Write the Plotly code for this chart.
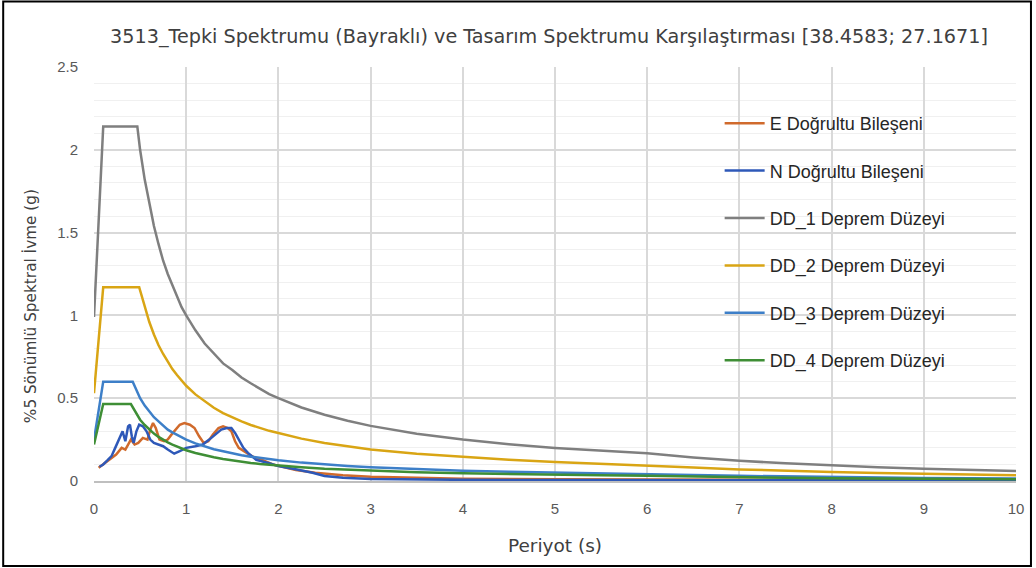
import plotly.graph_objects as go

# Recorded response spectra (5% damping), period in s, acceleration in g
e_period = [0.05, 0.12, 0.19, 0.24, 0.30, 0.34, 0.37, 0.40, 0.44, 0.48, 0.53, 0.58, 0.61, 0.64,
            0.67, 0.71, 0.76, 0.80, 0.84, 0.88, 0.93, 0.98, 1.04, 1.09, 1.14, 1.19, 1.24, 1.29,
            1.35, 1.40, 1.45, 1.49, 1.53, 1.57, 1.62, 1.69, 1.76, 1.83, 1.94, 2.05, 2.19, 2.40,
            2.70, 3.0, 3.5, 4.0, 5.0, 6.0, 7.0, 8.0, 9.0, 10.0]
e_sa = [0.08, 0.11, 0.14, 0.16, 0.20, 0.19, 0.22, 0.25, 0.22, 0.23, 0.26, 0.25, 0.31, 0.35,
        0.32, 0.25, 0.24, 0.25, 0.28, 0.31, 0.34, 0.35, 0.34, 0.32, 0.27, 0.23, 0.24, 0.28,
        0.32, 0.33, 0.32, 0.30, 0.24, 0.20, 0.18, 0.157, 0.137, 0.125, 0.10, 0.085, 0.066, 0.05,
        0.035, 0.025, 0.018, 0.014, 0.011, 0.009, 0.008, 0.007, 0.006, 0.006]

n_period = [0.06, 0.10, 0.15, 0.19, 0.23, 0.26, 0.28, 0.31, 0.34, 0.37, 0.39, 0.41, 0.43, 0.46,
            0.49, 0.53, 0.57, 0.61, 0.65, 0.70, 0.75, 0.80, 0.87, 0.93, 1.0, 1.10, 1.18, 1.25,
            1.33, 1.38, 1.44, 1.49, 1.53, 1.57, 1.62, 1.67, 1.76, 1.90, 2.0, 2.2, 2.37, 2.5,
            2.7, 3.0, 3.5, 4.0, 5.0, 6.0, 7.0, 8.0, 9.0, 10.0]
n_sa = [0.086, 0.10, 0.127, 0.15, 0.20, 0.24, 0.26, 0.30, 0.24, 0.33, 0.34, 0.27, 0.23, 0.30,
        0.34, 0.33, 0.30, 0.25, 0.23, 0.22, 0.21, 0.19, 0.165, 0.18, 0.20, 0.21, 0.22, 0.25,
        0.29, 0.31, 0.32, 0.32, 0.29, 0.25, 0.20, 0.17, 0.127, 0.107, 0.09, 0.07, 0.05, 0.03,
        0.02, 0.012, 0.009, 0.007, 0.006, 0.005, 0.004, 0.004, 0.003, 0.003]

# Design spectra for earthquake levels DD_1 ... DD_4.
# The third period (None) is each level's own plateau corner period from dd_tb.
dd_period = [0.0, 0.1, None, 0.5, 0.55, 0.6, 0.65, 0.7, 0.75, 0.8, 0.85, 0.9, 0.95, 1.0,
             1.1, 1.2, 1.3, 1.4, 1.5, 1.6, 1.7, 1.8, 1.9, 2.0, 2.25, 2.5, 2.75, 3.0, 3.5,
             4.0, 4.5, 5.0, 5.5, 6.0, 6.5, 7.0, 7.5, 8.0, 8.5, 9.0, 9.5, 10.0]
dd_tb = [0.47, 0.49, 0.42, 0.40]
dd1_sa = [0.99, 2.14, 2.14, 2.00, 1.82, 1.67, 1.54, 1.43, 1.33, 1.25, 1.18, 1.11, 1.05, 1.00,
          0.91, 0.83, 0.77, 0.71, 0.67, 0.625, 0.59, 0.555, 0.525, 0.50, 0.444, 0.40, 0.364,
          0.333, 0.286, 0.25, 0.222, 0.20, 0.182, 0.167, 0.142, 0.122, 0.107, 0.094, 0.083,
          0.074, 0.066, 0.06]
dd2_sa = [0.53, 1.17, 1.17, 1.15, 1.045, 0.96, 0.885, 0.82, 0.767, 0.72, 0.676, 0.64, 0.605,
          0.575, 0.523, 0.48, 0.442, 0.41, 0.383, 0.36, 0.338, 0.32, 0.303, 0.29, 0.256, 0.23,
          0.209, 0.19, 0.164, 0.144, 0.128, 0.115, 0.105, 0.096, 0.082, 0.070, 0.061, 0.054,
          0.048, 0.043, 0.038, 0.035]
dd3_sa = [0.25, 0.60, 0.60, 0.50, 0.455, 0.42, 0.385, 0.36, 0.333, 0.31, 0.294, 0.28, 0.263,
          0.25, 0.227, 0.21, 0.192, 0.18, 0.167, 0.156, 0.147, 0.139, 0.132, 0.125, 0.111, 0.10,
          0.091, 0.083, 0.071, 0.0625, 0.056, 0.05, 0.045, 0.042, 0.036, 0.031, 0.027, 0.023,
          0.021, 0.0185, 0.017, 0.015]
dd4_sa = [0.22, 0.465, 0.465, 0.37, 0.338, 0.31, 0.286, 0.266, 0.248, 0.233, 0.219, 0.207,
          0.196, 0.186, 0.169, 0.155, 0.143, 0.133, 0.124, 0.116, 0.109, 0.103, 0.098, 0.093,
          0.083, 0.074, 0.068, 0.062, 0.053, 0.0465, 0.041, 0.037, 0.034, 0.031, 0.026, 0.023,
          0.020, 0.017, 0.015, 0.014, 0.012, 0.011]

names = ["E Doğrultu Bileşeni", "N Doğrultu Bileşeni", "DD_1 Deprem Düzeyi",
         "DD_2 Deprem Düzeyi", "DD_3 Deprem Düzeyi", "DD_4 Deprem Düzeyi"]
colors = ["#D06A2C", "#2E58B8", "#7F7F7F", "#D9A514", "#3D7FC8", "#3E8E35"]

fig = go.Figure()
fig.add_trace(go.Scatter(x=e_period, y=e_sa, mode="lines", name=names[0],
                         line=dict(color=colors[0], width=2.5), legendgroup="g0"))
fig.add_trace(go.Scatter(x=n_period, y=n_sa, mode="lines", name=names[1],
                         line=dict(color=colors[1], width=2.5), legendgroup="g1"))
for i, (sa, tb) in enumerate(zip([dd1_sa, dd2_sa, dd3_sa, dd4_sa], dd_tb)):
    periods = [tb if p is None else p for p in dd_period]
    fig.add_trace(go.Scatter(x=periods, y=sa, mode="lines", name=names[i + 2],
                             line=dict(color=colors[i + 2], width=2.5),
                             legendgroup=f"g{i + 2}"))

W, H = 1036, 568
ml, mr, mt, mb = 94, 18, 67, 87
pw, ph = W - ml - mr, H - mt - mb


def px_x(p):
    return (p - ml) / pw


def px_y(p):
    return (H - mb - p) / ph


tick_font = dict(family="Liberation Sans, Arial, sans-serif", size=15, color="#595959")
text_family = "DejaVu Sans, Verdana, sans-serif"

fig.update_layout(
    width=W, height=H,
    margin=dict(l=ml, r=mr, t=mt, b=mb),
    paper_bgcolor="white", plot_bgcolor="white",
    title=dict(text="3513_Tepki Spektrumu (Bayraklı) ve Tasarım Spektrumu Karşılaştırması [38.4583; 27.1671]",
               xref="paper", x=px_x(550), xanchor="center", y=1 - 36 / H, yanchor="middle",
               font=dict(family=text_family, size=19.2, color="#404040")),
    legend=dict(x=px_x(721), y=px_y(105), xanchor="left", yanchor="top",
                bgcolor="rgba(0,0,0,0)", tracegroupgap=21, itemwidth=40,
                font=dict(family="Liberation Sans, Arial, sans-serif", size=18, color="#262626")),
    xaxis=dict(range=[0, 10], dtick=1, showgrid=True, gridcolor="#D9D9D9", gridwidth=1.5,
               zeroline=False, showline=True, linecolor="#BFBFBF", linewidth=1.5,
               ticks="outside", ticklen=13, tickcolor="rgba(0,0,0,0)", tickfont=tick_font,
               title=dict(text="Periyot (s)", font=dict(family=text_family, size=18.5, color="#404040"),
                          standoff=23)),
    yaxis=dict(range=[0, 2.5], dtick=0.5, showgrid=True, gridcolor="#D9D9D9", gridwidth=1.5,
               minor=dict(dtick=0.1, showgrid=True, gridcolor="#F0F0F0", gridwidth=1),
               zeroline=False, showline=False,
               ticks="outside", ticklen=12, tickcolor="rgba(0,0,0,0)", tickfont=tick_font),
    annotations=[dict(text="%5 Sönümlü Spektral İvme (g)", textangle=-90,
                      xref="paper", yref="paper", x=px_x(30), y=px_y(306),
                      xanchor="center", yanchor="middle", showarrow=False,
                      font=dict(family=text_family, size=15.3, color="#404040"))],
    shapes=[dict(type="rect", xref="paper", yref="paper",
                 x0=px_x(3), x1=px_x(1033), y0=px_y(566), y1=px_y(1.5),
                 line=dict(color="black", width=2), fillcolor="rgba(0,0,0,0)", layer="above")],
)

fig.write_html("out.html")
